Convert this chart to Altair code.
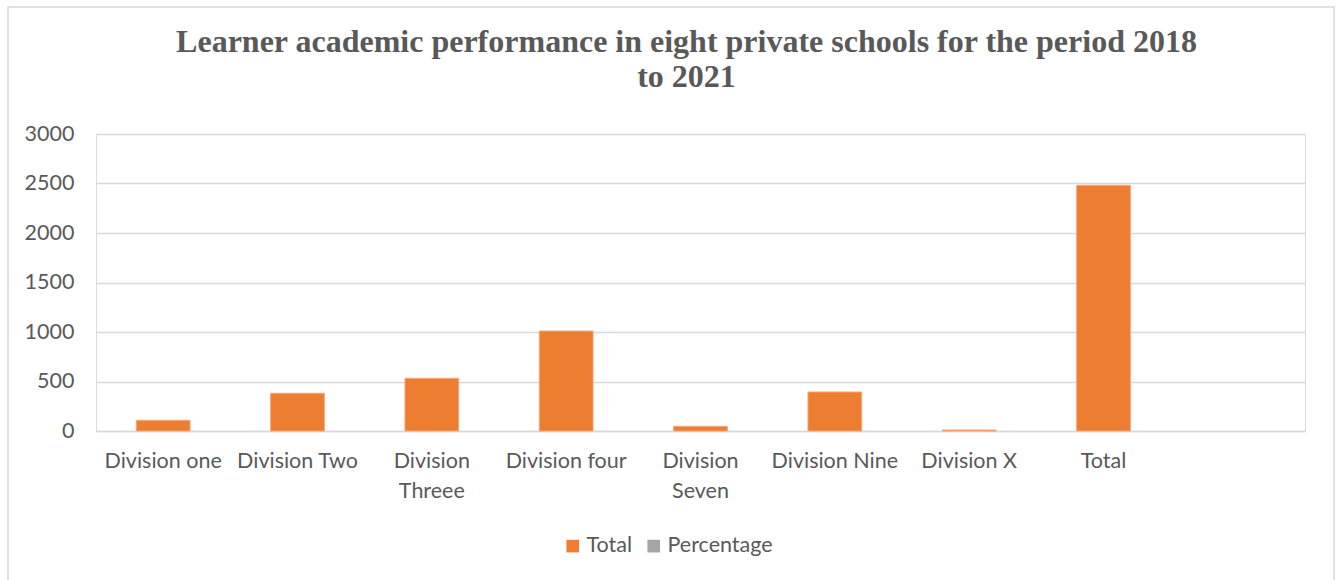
import altair as alt
import pandas as pd

categories = ["Division one", "Division Two", "Division Threee", "Division four",
              "Division Seven", "Division Nine", "Division X", "Total"]
total_values = [108, 381, 532, 1010, 47, 394, 10, 2482]
series_names = ["Total", "Percentage"]
series_colors = ["#ED7D31", "#A5A5A5"]
y_ticks = [0, 500, 1000, 1500, 2000, 2500, 3000]
title_lines = ["Learner academic performance in eight private schools for the period 2018",
               "to 2021"]

x_domain = categories + [" "]

df = pd.DataFrame({"Category": categories, "Value": total_values, "Series": "Total"})

W, H = 1209, 297
LEFT, TOP = 96, 134

border = alt.Chart(pd.DataFrame({"a": [0]})).mark_rect(
    fill="white", fillOpacity=0, stroke="#D9D9D9", strokeWidth=1.5
).encode(
    x=alt.value(8 - LEFT), x2=alt.value(1334 - LEFT),
    y=alt.value(7 - TOP), y2=alt.value(600 - TOP)
)

bars = alt.Chart(df).mark_bar(stroke="#F3A878", strokeWidth=1).encode(
    x=alt.X("Category:N", sort=x_domain,
            scale=alt.Scale(domain=x_domain, paddingInner=0.6, paddingOuter=0.3),
            axis=alt.Axis(title=None, labelAngle=0, ticks=False, domain=True,
                          domainColor="#D9D9D9", domainWidth=1.5,
                          labelFont="Lato", labelFontSize=21.5, labelColor="#595959",
                          labelPadding=19, labelLineHeight=30, labelLimit=200,
                          labelExpr="indexof(['Division Threee','Division Seven'], datum.label) >= 0 ? split(datum.label, ' ') : datum.label")),
    y=alt.Y("Value:Q", scale=alt.Scale(domain=[0, 3000], nice=False),
            axis=alt.Axis(title=None, values=y_ticks, ticks=False, domain=False,
                          grid=True, gridColor="#D9D9D9", gridWidth=1.5, format="d",
                          labelFont="Lato", labelFontSize=21.5, labelColor="#595959",
                          labelPadding=22)),
    color=alt.Color("Series:N", scale=alt.Scale(domain=series_names, range=series_colors),
                    legend=alt.Legend(title=None, orient="none", direction="horizontal",
                                      legendX=466, legendY=401,
                                      symbolType="square", symbolSize=160,
                                      symbolStrokeWidth=0,
                                      labelFont="Lato", labelFontSize=21.5,
                                      labelColor="#595959",
                                      labelOffset=3))
)

chart = alt.layer(border, bars).properties(
    width=W, height=H,
    padding={"left": LEFT, "top": TOP, "right": 1338 - LEFT - W, "bottom": 580 - TOP - H},
    autosize="none",
    title=alt.TitleParams(text=title_lines, font="Liberation Serif", fontSize=32,
                          fontWeight="bold", color="#595959", anchor="middle",
                          lineHeight=35, offset=-88, dx=-14)
).configure_view(stroke=None).configure_legend(columnPadding=22).configure(background="white")

chart.save("out.html", embed_options={"renderer": "svg", "actions": False})
